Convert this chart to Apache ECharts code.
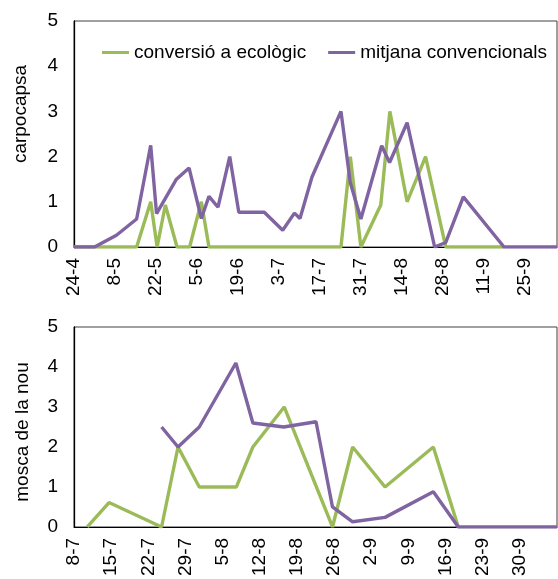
<!DOCTYPE html>
<html>
<head>
<meta charset="utf-8">
<script src="https://cdn.jsdelivr.net/npm/echarts@6/dist/echarts.min.js"></script>
<style>html,body{margin:0;padding:0;background:#fff;}#c{width:558px;height:579px;}</style>
</head>
<body>
<div id="c"></div>
<script>
// ---- data (x = days after the panel's start date) ----
const seriesNames = ['conversió a ecològic', 'mitjana convencionals'];
const carpoStart = [2019, 3, 24];   // 24-4
const moscaStart = [2019, 6, 8];    // 8-7
const carpoYTitle = 'carpocapsa';
const moscaYTitle = 'mosca de la nou';

const carpoEcoDays = [0, 21.4, 26.2, 28.4, 31.2, 35.2, 39.5, 43.5, 46.1, 91.2, 94.4, 98, 104.8, 107.9, 113.8, 120.1, 127, 147];
const carpoEcoVals = [0, 0, 1.0, 0, 0.93, 0, 0, 1.0, 0, 0, 2.0, 0, 0.93, 3.0, 1.0, 2.0, 0, 0];
const carpoConvDays = [0, 7, 14.5, 21.4, 26.2, 28.2, 35, 39.3, 43.5, 46.1, 49.2, 53.2, 56.3, 65, 71.3, 75.3, 77.2, 81.3, 91.2, 94.4, 98, 105.1, 107.8, 113.8, 123.2, 127, 133, 146.9, 165];
const carpoConvVals = [0, 0, 0.26, 0.62, 2.25, 0.74, 1.5, 1.75, 0.63, 1.12, 0.88, 2.0, 0.77, 0.77, 0.37, 0.75, 0.63, 1.55, 3.0, 1.42, 0.62, 2.24, 1.87, 2.75, 0, 0.1, 1.11, 0, 0];

const moscaEcoDays = [2.5, 6.6, 16.5, 19.6, 23.6, 30.6, 33.7, 39.6, 48.7, 52.5, 58.6, 67.7, 72.4];
const moscaEcoVals = [0, 0.61, 0, 2.0, 1.0, 1.0, 2.0, 3.0, 0, 2.0, 1.0, 2.0, 0];
const moscaConvDays = [16.5, 19.6, 23.6, 30.5, 33.7, 39.5, 45.6, 48.7, 52.5, 58.6, 67.7, 72.4, 91];
const moscaConvVals = [2.5, 2.0, 2.5, 4.1, 2.6, 2.5, 2.63, 0.5, 0.13, 0.24, 0.88, 0, 0];

const carpoXMax = 165, carpoXStep = 14;
const moscaXMax = 91, moscaXStep = 7;
const yMax = 5, yStep = 1;

// ---- helpers ----
function dateFmt(base) {
  return function (v) {
    const d = new Date(Date.UTC(base[0], base[1], base[2]) + Math.round(v) * 864e5);
    return d.getUTCDate() + '-' + (d.getUTCMonth() + 1);
  };
}
function pairs(xs, ys) { return xs.map((x, i) => [x, ys[i]]); }

const GREEN = '#9BBB59', PURPLE = '#8064A2';
const FONT = '"Liberation Sans", Arial, sans-serif';
const FS = 19;

function xAxisCfg(gridIndex, max, step, base) {
  return {
    type: 'value', gridIndex: gridIndex, min: 0, max: max, interval: step,
    axisLine: { show: true, lineStyle: { color: '#000', width: 1 } },
    axisTick: { show: false }, splitLine: { show: false },
    axisLabel: { rotate: 90, margin: 11, color: '#000', fontSize: FS, fontFamily: FONT,
      formatter: dateFmt(base), showMaxLabel: false, showMinLabel: true }
  };
}
function yAxisCfg(gridIndex) {
  return {
    type: 'value', gridIndex: gridIndex, min: 0, max: yMax, interval: yStep,
    axisLine: { show: true, lineStyle: { color: '#000', width: 1.3 } },
    axisTick: { show: false }, splitLine: { show: false },
    axisLabel: { margin: 16, color: '#000', fontSize: FS, fontFamily: FONT }
  };
}
function lineCfg(name, color, xi, data) {
  return {
    type: 'line', name: name, xAxisIndex: xi, yAxisIndex: xi, data: data,
    showSymbol: false, symbol: 'none', lineStyle: { color: color, width: 3.4 },
    itemStyle: { color: color }, animation: false
  };
}

const chart = echarts.init(document.getElementById('c'), null, { renderer: 'canvas' });
chart.setOption({
  animation: false,
  backgroundColor: '#fff',
  grid: [
    { left: 74, top: 21, width: 483, height: 226, show: true, borderColor: '#404040', borderWidth: 1, backgroundColor: 'transparent' },
    { left: 74, top: 327, width: 483, height: 202, show: true, borderColor: '#404040', borderWidth: 1, backgroundColor: 'transparent' }
  ],
  legend: {
    data: seriesNames, left: 97, top: 38, itemWidth: 27, itemHeight: 3, itemGap: 22,
    icon: 'rect', textStyle: { fontSize: FS, fontFamily: FONT, color: '#000' }
  },
  xAxis: [xAxisCfg(0, carpoXMax, carpoXStep, carpoStart), xAxisCfg(1, moscaXMax, moscaXStep, moscaStart)],
  yAxis: [yAxisCfg(0), yAxisCfg(1)],
  series: [
    lineCfg(seriesNames[0], GREEN, 0, pairs(carpoEcoDays, carpoEcoVals)),
    lineCfg(seriesNames[1], PURPLE, 0, pairs(carpoConvDays, carpoConvVals)),
    lineCfg(seriesNames[0], GREEN, 1, pairs(moscaEcoDays, moscaEcoVals)),
    lineCfg(seriesNames[1], PURPLE, 1, pairs(moscaConvDays, moscaConvVals))
  ],
  graphic: [
    { type: 'text', x: 21, y: 114, rotation: Math.PI / 2,
      style: { text: carpoYTitle, fontSize: FS, fontFamily: FONT, fill: '#000', align: 'center', verticalAlign: 'middle' } },
    { type: 'text', x: 23, y: 432, rotation: Math.PI / 2,
      style: { text: moscaYTitle, fontSize: FS, fontFamily: FONT, fill: '#000', align: 'center', verticalAlign: 'middle' } }
  ]
});
</script>
</body>
</html>
